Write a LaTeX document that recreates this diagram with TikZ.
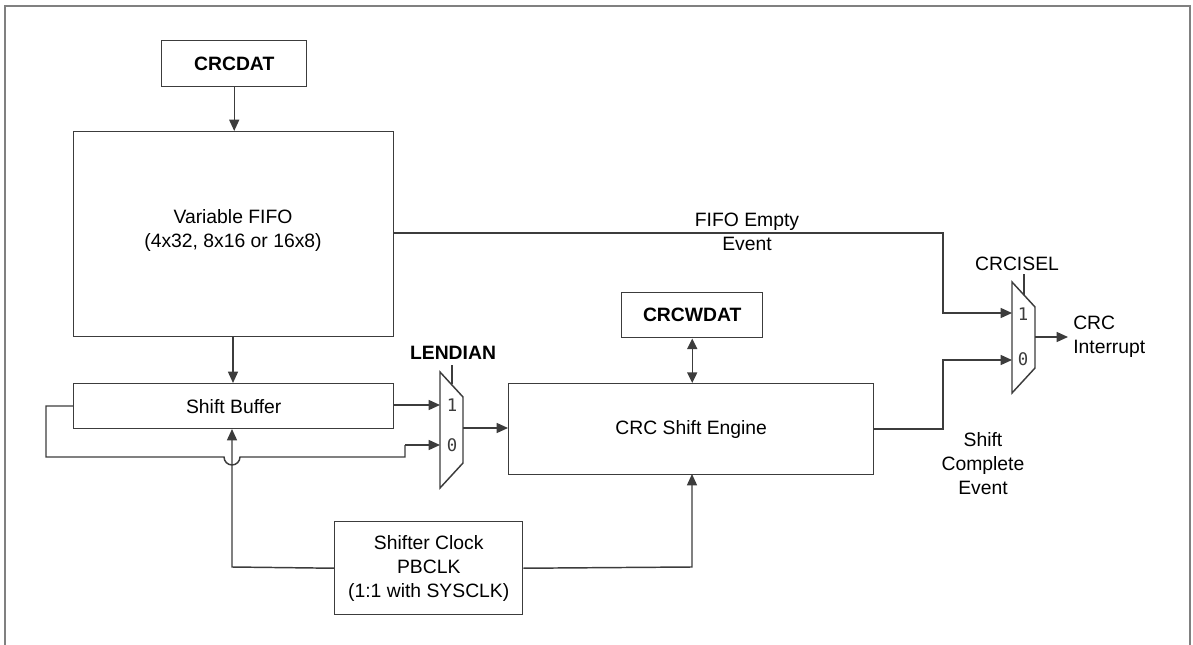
\documentclass[tikz,border=0pt]{standalone}
\usepackage{fontspec}
\setmainfont{Liberation Sans}
\newfontfamily\monofont{DejaVu Sans Mono}
\usetikzlibrary{arrows.meta}
\definecolor{ln}{HTML}{3C3C3C}
\definecolor{frm}{HTML}{808080}
\tikzset{
  px/.style={x=0.75pt,y=-0.75pt},
  blk/.style={draw=ln,line width=1.1pt,minimum width=0pt,inner sep=0pt},
  lbl/.style={font=\fontsize{14.5}{18}\selectfont,text=black,align=center,inner sep=0pt},
  blbl/.style={font=\fontsize{14.5}{18}\selectfont\bfseries,text=black,inner sep=0pt},
  mlbl/.style={font=\monofont\fontsize{13}{15}\selectfont,text=ln,inner sep=0pt},
  wire/.style={ln,line width=1.1pt},
  arr/.style={wire,-{Triangle[length=8.5pt,width=7.5pt]}},
  darr/.style={wire,{Triangle[length=8pt,width=7.5pt]}-{Triangle[length=8pt,width=7.5pt]}},
}
\begin{document}
\begin{tikzpicture}[px]
\useasboundingbox (0,0) rectangle (1193,645);
% frame
\draw[frm,line width=1.6pt] (5,645) -- (5,6) -- (1190,6) -- (1190,645);

% boxes
\node[blk,minimum width=108.75pt,minimum height=34.5pt,anchor=north west] (crcdat) at (161,40) {};
\node[blbl] at (crcdat.center) {CRCDAT};
\node[blk,minimum width=240pt,minimum height=153.75pt,anchor=north west] (fifo) at (73,131) {};
\node[lbl] at (233,230) {Variable FIFO\\(4x32, 8x16 or 16x8)};
\node[blk,minimum width=240pt,minimum height=33.75pt,anchor=north west] (sbuf) at (73,383) {};
\node[lbl] at (sbuf.center) {Shift Buffer};
\node[blk,minimum width=273.75pt,minimum height=68.25pt,anchor=north west] (eng) at (508,383) {};
\node[lbl] at (eng.center) {CRC Shift Engine};
\node[blk,minimum width=105.75pt,minimum height=33.75pt,anchor=north west] (crcwdat) at (621,292) {};
\node[blbl] at (crcwdat.center) {CRCWDAT};
\node[blk,minimum width=141pt,minimum height=69.75pt,anchor=north west] (clk) at (334,521) {};
\node[lbl] at (clk.center) {Shifter Clock\\PBCLK\\(1:1 with SYSCLK)};

% LENDIAN mux
\draw[wire] (440,372) -- (463,397) -- (463,463) -- (440,488) -- cycle;
\draw[wire] (452,384) -- (452,365);
\node[blbl] (lendian) at (453,353) {LENDIAN};
\coordinate (m1a) at (440,405);
\coordinate (m1b) at (440,445);
\coordinate (m1o) at (463,428);
\node[mlbl] at (452,405) {1};
\node[mlbl] at (452,445) {0};

% CRCISEL mux
\draw[wire] (1012,282) -- (1035,307) -- (1035,368) -- (1012,393) -- cycle;
\draw[wire] (1024,295) -- (1024,274);
\node[lbl] (crcisel) at (1017,264) {CRCISEL};
\coordinate (m2a) at (1012,313);
\coordinate (m2b) at (1012,360);
\coordinate (m2o) at (1035,337);
\node[mlbl] at (1023,314) {1};
\node[mlbl] at (1023,359) {0};
\node[lbl,align=left,anchor=west] (irq) at (1073,337) {CRC\\Interrupt};
\coordinate (irqend) at (1068,337);

% connectors
\draw[arr] (crcdat.south) -- (fifo.north -| crcdat.south);
\draw[arr] (233,337) -- (233,383);
\draw[arr] (393,405) -- (m1a);
\draw[wire] (73,406) -- (46,406) -- (46,457) -- (224,457) arc[start angle=180,end angle=0,radius=8] -- (405,457) -- (405,445);
\draw[arr] (405,445) -- (m1b);
\draw[arr] (m1o) -- (eng.west |- m1o);
\draw[darr] (crcwdat.south) -- (eng.north -| crcwdat.south);
\draw[arr] (clk.west) -- (232,567) -- (232,429);
\draw[arr] (clk.east) -- (692,567) -- (692,474);
\draw[arr] (393,233) -- (943,233) -- (943,313) -- (m2a);
\draw[arr] (873,429) -- (943,429) -- (943,360) -- (m2b);
\draw[arr] (m2o) -- (irqend);

% event labels
\node[lbl] (fifoev) at (747,232) {FIFO Empty\\Event};
\node[lbl] (shev) at (983,464) {Shift\\Complete\\Event};
\end{tikzpicture}
\end{document}
